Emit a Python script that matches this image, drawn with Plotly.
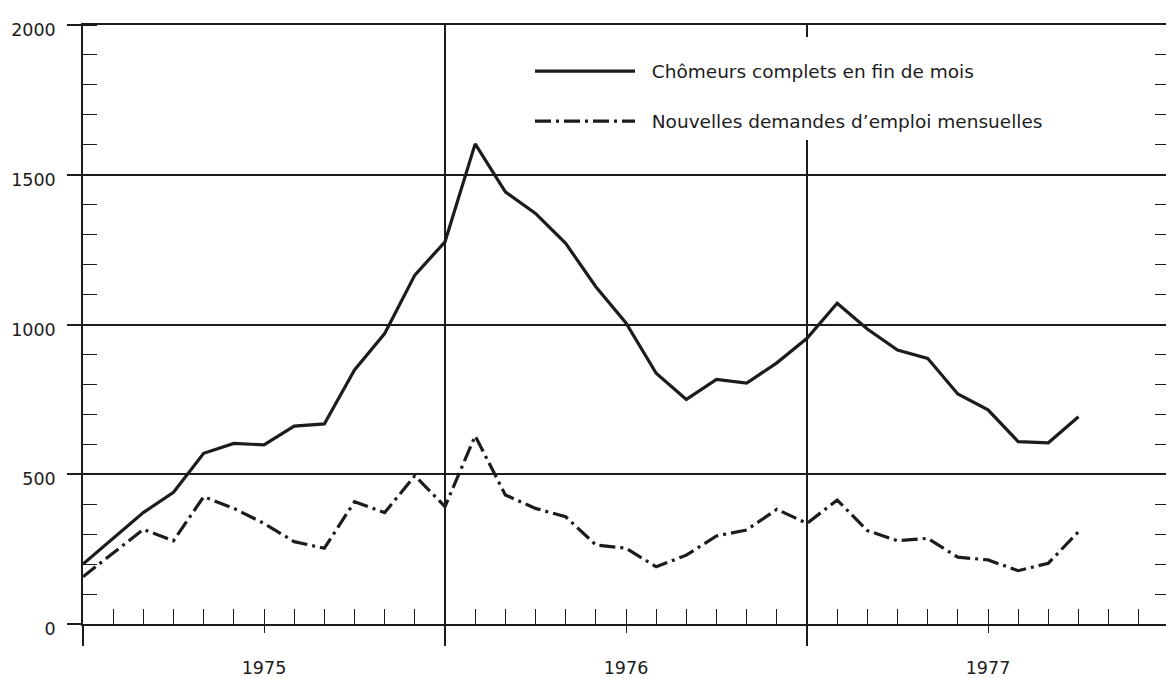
import plotly.graph_objects as go

# month index: 0 = start of 1975 (end Dec 1974), 12 = start 1976, 24 = start 1977, 36 = end 1977
months = list(range(0, 34))
chomeurs = [200, 287, 372, 440, 570, 603, 598, 661, 668, 848,
            970, 1165, 1276, 1603, 1443, 1371, 1271, 1126, 1005, 837,
            750, 817, 804, 872, 954, 1071, 985, 915, 887, 768,
            715, 609, 605, 692]
demandes = [158, 236, 316, 278, 425, 386, 336, 275, 253, 408,
            372, 495, 392, 628, 431, 386, 358, 264, 253, 191,
            230, 294, 314, 383, 336, 414, 312, 278, 286, 223,
            214, 178, 203, 308]

year_ticks = [6, 18, 30]
year_labels = ["1975", "1976", "1977"]
year_bounds = [0, 12, 24, 36]
month_ticks = list(range(1, 36))
y_major = [0, 500, 1000, 1500, 2000]
name_a = "Chômeurs complets en fin de mois"
name_b = "Nouvelles demandes d’emploi mensuelles"

INK = "#1c1c1c"
FONT = "DejaVu Sans"
NB = "\u00a0\u00a0"

fig = go.Figure()
fig.add_trace(go.Scatter(x=months, y=chomeurs, mode="lines", name=NB + name_a,
                         legendgroup="a",
                         line=dict(color=INK, width=3.2)))
fig.add_trace(go.Scatter(x=months, y=demandes, mode="lines", name=NB + name_b,
                         legendgroup="b",
                         line=dict(color=INK, width=3.2, dash="16px,5px,3px,5px")))
# empty traces so the helper axes get drawn
fig.add_trace(go.Scatter(x=[], y=[], xaxis="x2", yaxis="y", showlegend=False, hoverinfo="skip"))
fig.add_trace(go.Scatter(x=[], y=[], xaxis="x3", yaxis="y", showlegend=False, hoverinfo="skip"))
fig.add_trace(go.Scatter(x=[], y=[], xaxis="x", yaxis="y2", showlegend=False, hoverinfo="skip"))

fig.update_layout(
    width=1166, height=671,
    margin=dict(l=75, r=5, t=17, b=55, autoexpand=False),
    paper_bgcolor="white", plot_bgcolor="white",
    font=dict(family=FONT, color=INK, size=17),
    showlegend=True,
    legend=dict(
        x=(530 - 83) / 1086, y=1 - 12 / 599, xanchor="left", yanchor="top",
        bgcolor="white", borderwidth=0,
        itemwidth=100, tracegroupgap=23,
        traceorder="grouped",
        font=dict(family=FONT, size=18.5, color=INK),
        title=dict(text=" ", font=dict(size=12)),
    ),
    xaxis=dict(
        range=[0, 36], tickvals=year_ticks, ticktext=year_labels,
        ticks="outside", ticklen=7, tickwidth=1.4, tickcolor=INK,
        showline=True, linecolor=INK, linewidth=1.6, mirror=True,
        showgrid=False, zeroline=False, automargin=False,
        tickfont=dict(family=FONT, size=17.5, color=INK),
        ticklabelstandoff=20,
    ),
    xaxis2=dict(
        range=[0, 36], overlaying="x", anchor="y", side="bottom",
        tickvals=year_bounds, ticks="outside", ticklen=21, tickwidth=1.5, tickcolor=INK,
        showticklabels=False, showgrid=True, gridcolor=INK, gridwidth=1.5,
        showline=False, zeroline=False, automargin=False,
    ),
    xaxis3=dict(
        range=[0, 36], overlaying="x", anchor="y", side="bottom",
        tickvals=month_ticks, ticks="inside", ticklen=15, tickwidth=1.4, tickcolor=INK,
        showticklabels=False, showgrid=False, showline=False, zeroline=False, automargin=False,
    ),
    yaxis=dict(
        range=[0, 2000], tickvals=y_major,
        ticks="outside", ticklen=14, tickwidth=1.5, tickcolor=INK,
        showline=True, linecolor=INK, linewidth=1.6, mirror=True,
        showgrid=True, gridcolor=INK, gridwidth=1.5, zeroline=False, automargin=False,
        minor=dict(dtick=100, ticks="inside", ticklen=14, tickwidth=1.4, tickcolor=INK, showgrid=False),
        tickfont=dict(family=FONT, size=17.5, color=INK),
        ticklabelstandoff=8, ticklabelshift=5,
    ),
    yaxis2=dict(
        range=[0, 2000], overlaying="y", anchor="x", side="right",
        dtick=100, ticks="inside", ticklen=14, tickwidth=1.4, tickcolor=INK,
        showticklabels=False, showgrid=False, showline=False, zeroline=False, automargin=False,
    ),
)

fig.write_html("out.html")
